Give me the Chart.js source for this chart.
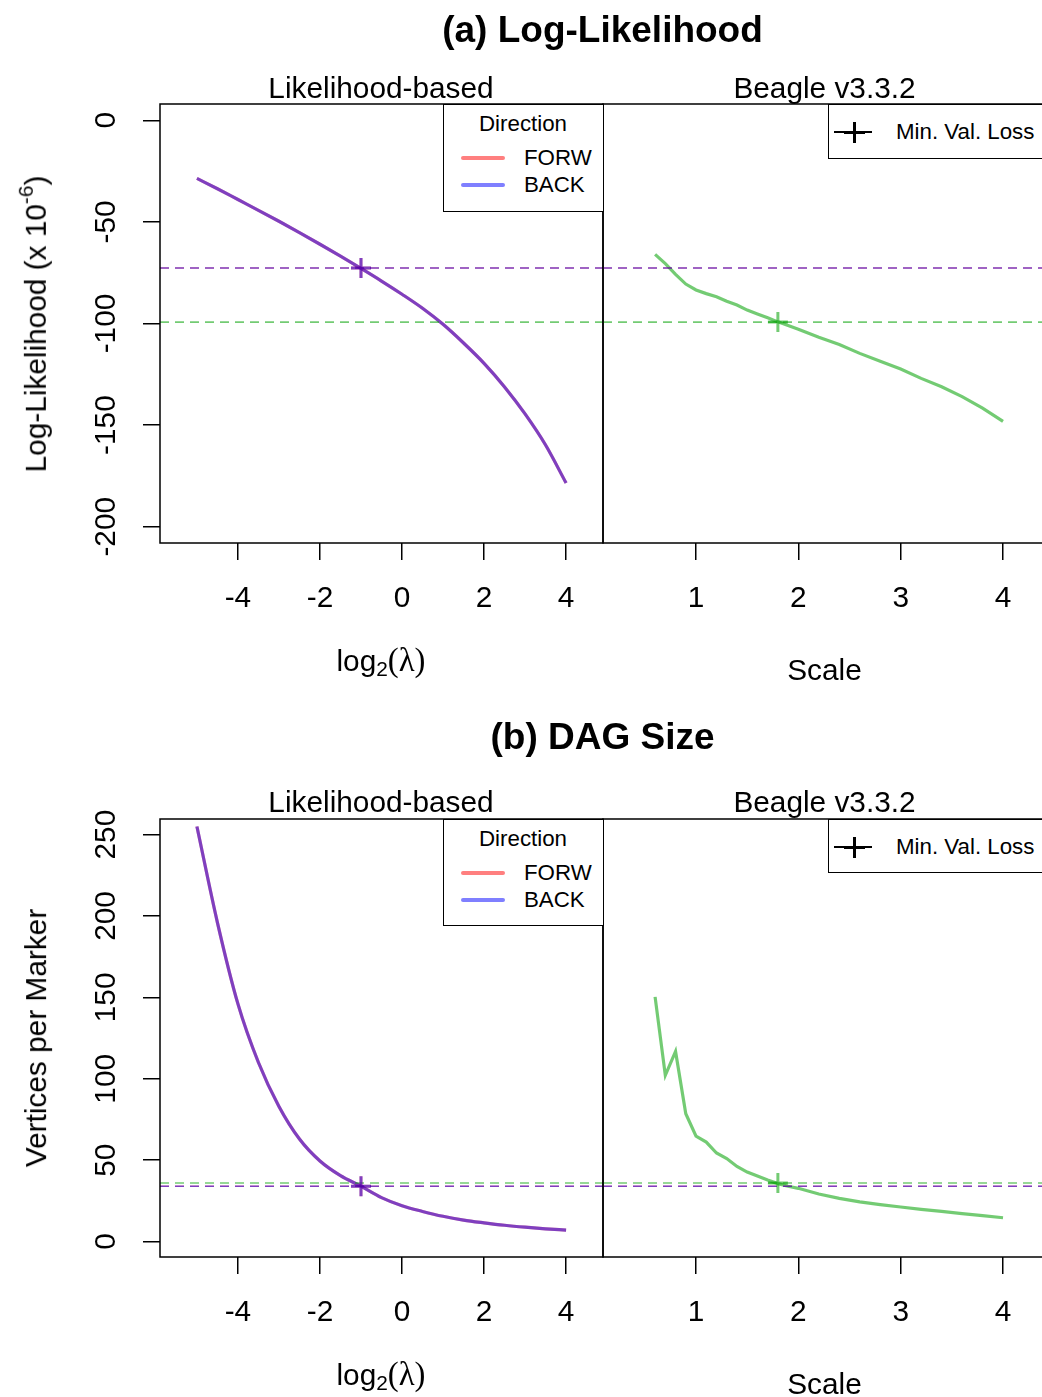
<!DOCTYPE html>
<html><head><meta charset="utf-8">
<script src="https://cdn.jsdelivr.net/npm/chart.js@4.4.1/dist/chart.umd.min.js"></script>
<style>
html,body{margin:0;padding:0;background:#fff;}
body{width:1042px;height:1397px;overflow:hidden;position:relative;font-family:"Liberation Sans",Arial,sans-serif;color:#000}
canvas{position:absolute}
.t{position:absolute;white-space:nowrap;line-height:1;transform:translate(-50%,-50%);font-size:29.8px}
.rot{transform:translate(-50%,-50%) rotate(-90deg)}
.leg{position:absolute;background:#fff;border:1.5px solid #000;box-sizing:border-box;z-index:5}
.lt{position:absolute;white-space:nowrap;line-height:1;font-size:22.3px;transform:translateY(-50%)}
.ll{position:absolute;height:4px;border-radius:2px;transform:translateY(-50%)}
sub{font-size:0.7em;vertical-align:-0.25em}
sup{font-size:0.7em;vertical-align:0.6em}
.serif{font-family:"Liberation Serif","Times New Roman",serif;font-size:1.1em}
</style></head><body>

<canvas id="cA1" width="620" height="700" style="left:0;top:0"></canvas>
<canvas id="cA2" width="500" height="700" style="left:560px;top:0"></canvas>
<canvas id="cB1" width="620" height="697" style="left:0;top:700px"></canvas>
<canvas id="cB2" width="500" height="697" style="left:560px;top:700px"></canvas>

<div class="t" style="left:602.5px;top:29px;font-weight:bold;font-size:37px">(a) Log-Likelihood</div>
<div class="t" style="left:381px;top:88px">Likelihood-based</div>
<div class="t" style="left:824.5px;top:88px">Beagle v3.3.2</div>
<div class="t" style="left:381px;top:662px">log<sub>2</sub><span class="serif">(λ)</span></div>
<div class="t" style="left:824.5px;top:670px">Scale</div>
<div class="t rot" style="left:33px;top:324px">Log-Likelihood (x 10<sup>-6</sup>)</div>

<div class="t" style="left:602.5px;top:736px;font-weight:bold;font-size:37px">(b) DAG Size</div>
<div class="t" style="left:381px;top:802px">Likelihood-based</div>
<div class="t" style="left:824.5px;top:802px">Beagle v3.3.2</div>
<div class="t" style="left:381px;top:1376px">log<sub>2</sub><span class="serif">(λ)</span></div>
<div class="t" style="left:824.5px;top:1384px">Scale</div>
<div class="t rot" style="left:36px;top:1038px">Vertices per Marker</div>

<div class="leg" style="left:443px;top:104px;width:161px;height:108px">
  <div class="lt" style="left:35px;top:19px">Direction</div>
  <div class="ll" style="left:17px;top:53px;width:44px;background:#FF7F7F"></div>
  <div class="lt" style="left:80px;top:53px">FORW</div>
  <div class="ll" style="left:17px;top:80px;width:44px;background:#7F7FFF"></div>
  <div class="lt" style="left:80px;top:80px">BACK</div>
</div>
<div class="leg" style="left:828px;top:104px;width:240px;height:55px">
  <div style="position:absolute;left:5px;top:26px;width:38px;height:1.5px;background:#000"></div>
  <div style="position:absolute;left:15px;top:25.5px;width:21px;height:3px;background:#000"></div>
  <div style="position:absolute;left:24px;top:16.5px;width:3px;height:21px;background:#000"></div>
  <div class="lt" style="left:67px;top:27px">Min. Val. Loss</div>
</div>

<div class="leg" style="left:443px;top:819px;width:161px;height:107px">
  <div class="lt" style="left:35px;top:19px">Direction</div>
  <div class="ll" style="left:17px;top:53px;width:44px;background:#FF7F7F"></div>
  <div class="lt" style="left:80px;top:53px">FORW</div>
  <div class="ll" style="left:17px;top:80px;width:44px;background:#7F7FFF"></div>
  <div class="lt" style="left:80px;top:80px">BACK</div>
</div>
<div class="leg" style="left:828px;top:819px;width:240px;height:54px">
  <div style="position:absolute;left:5px;top:26px;width:38px;height:1.5px;background:#000"></div>
  <div style="position:absolute;left:15px;top:25.5px;width:21px;height:3px;background:#000"></div>
  <div style="position:absolute;left:24px;top:16.5px;width:3px;height:21px;background:#000"></div>
  <div class="lt" style="left:67px;top:27px">Min. Val. Loss</div>
</div>

<script>
// ---------- data ----------
const likX = [-5,-4.5,-4,-3.5,-3,-2.5,-2,-1.5,-1,-0.5,0,0.5,1,1.5,2,2.5,3,3.5,4];
const likLogLik = [-28.6,-33.7,-39.0,-44.3,-49.7,-55.3,-61.0,-66.9,-72.9,-79.1,-85.6,-92.5,-100.4,-109.6,-119.6,-131.2,-144.5,-159.8,-178.5];
const likVertices = [255,196,146,110,83,63,49.5,40.5,34,27,22,18.5,15.5,13.2,11.5,10,8.8,7.8,7];

const beagleX = [0.6,0.7,0.8,0.9,1.0,1.1,1.2,1.3,1.4,1.5,1.6,1.7,1.8,1.9,2.0,2.2,2.4,2.6,2.8,3.0,3.2,3.4,3.6,3.8,4.0];
const beagleLogLik = [-66.0,-70.5,-75.8,-80.6,-83.5,-85.3,-86.8,-89.0,-90.9,-93.4,-95.3,-97.2,-99.2,-101.0,-102.8,-106.8,-110.3,-114.7,-118.6,-122.4,-127.0,-131.1,-136.0,-141.6,-148.2];
const beagleVertices = [150.3,102.1,116.8,78.5,64.7,61.1,54.4,51.0,46.1,42.7,40.2,37.8,35.6,34.0,32.7,29.2,26.5,24.4,22.7,21.2,19.8,18.5,17.1,15.9,14.6];

// minimum validation loss: [likelihood-based, beagle]
const minLossX = [-1, 1.8];
const minLossLogLik = [-72.7, -99.3];
const minLossVertices = [34.0, 36.0];

const xTicksLik = [-4,-2,0,2,4];
const xTicksBeagle = [1,2,3,4];
const yTicksLogLik = [0,-50,-100,-150,-200];
const yTicksVertices = [0,50,100,150,200,250];

// ---------- styling ----------
const RED = 'rgba(255,0,0,0.5)', BLUE = 'rgba(0,0,255,0.5)', GREEN = 'rgba(0,160,0,0.55)';
const FONT = '"Liberation Sans", Arial, sans-serif';

const framePlugin = {
  id: 'frame',
  afterDraw(chart, args, opts) {
    const {ctx, chartArea: a} = chart;
    ctx.save();
    ctx.strokeStyle = '#000'; ctx.lineWidth = 1.5;
    ctx.strokeRect(a.left, a.top, a.right - a.left, a.bottom - a.top);
    ctx.fillStyle = '#000';
    ctx.font = '29.8px ' + FONT;
    ctx.textAlign = 'center'; ctx.textBaseline = 'middle';
    const xs = chart.scales.x;
    xs.ticks.forEach(t => ctx.fillText(String(t.value), xs.getPixelForValue(t.value), a.bottom + 56));
    if (opts.yLabels) {
      const ys = chart.scales.y;
      ys.ticks.forEach(t => {
        ctx.save();
        ctx.translate(opts.yLabelX, ys.getPixelForValue(t.value));
        ctx.rotate(-Math.PI / 2);
        ctx.fillText(String(t.value), 0, 0);
        ctx.restore();
      });
    }
    ctx.restore();
  }
};

const pts = (xs, ys) => xs.map((x, i) => ({x, y: ys[i]}));

function makePanel(id, o) {
  const lineDs = (data, color, order, smooth) => ({data, borderColor: color, borderWidth: 3.2, pointRadius: 0, fill: false, order,
    cubicInterpolationMode: smooth ? 'monotone' : 'default', tension: 0});
  const hline = (v, color, order) => ({data: [{x: o.xMin, y: v}, {x: o.xMax, y: v}], borderColor: color, borderWidth: 1.6, borderDash: [9, 6], pointRadius: 0, fill: false, order});
  const mark = (x, y, color, order) => ({data: [{x, y}], showLine: false, pointStyle: 'cross', pointRadius: 10, pointBorderWidth: 3, pointBorderColor: color, borderColor: color, order});

  const datasets = [];
  if (o.kind === 'lik') {
    datasets.push(lineDs(pts(o.x, o.y), RED, 10, true));
    datasets.push(lineDs(pts(o.x, o.y), BLUE, 9, true));
  } else {
    datasets.push(lineDs(pts(o.x, o.y), GREEN, 10, false));
  }
  datasets.push(hline(o.hPurple, RED, 8));
  datasets.push(hline(o.hPurple, BLUE, 7));
  datasets.push(hline(o.hGreen, GREEN, 6));
  if (o.kind === 'lik') {
    datasets.push(mark(o.mx, o.my, RED, 2));
    datasets.push(mark(o.mx, o.my, BLUE, 1));
  } else {
    datasets.push(mark(o.mx, o.my, GREEN, 1));
  }

  return new Chart(document.getElementById(id), {
    type: 'line',
    data: {datasets},
    options: {
      responsive: false, animation: false, devicePixelRatio: 1,
      layout: {padding: o.padding},
      plugins: {legend: {display: false}, tooltip: {enabled: false}, frame: {yLabels: o.showY, yLabelX: 106.5}},
      scales: {
        x: {type: 'linear', min: o.xMin, max: o.xMax,
            afterBuildTicks: s => { s.ticks = o.xTicks.map(v => ({value: v})); },
            afterFit: s => { s.height = o.xAxisH; },
            ticks: {display: false},
            grid: {drawOnChartArea: false, drawTicks: true, tickLength: 17, color: '#000', lineWidth: 1.5},
            border: {display: false}},
        y: {type: 'linear', min: o.yMin, max: o.yMax, display: o.showY,
            afterBuildTicks: s => { s.ticks = o.yTicks.map(v => ({value: v})); },
            afterFit: s => { s.width = o.showY ? 160 : 0; },
            ticks: {display: false},
            grid: {drawOnChartArea: false, drawTicks: true, tickLength: 17, color: '#000', lineWidth: 1.5},
            border: {display: false}}
      }
    },
    plugins: [framePlugin]
  });
}

const LIK_X = [-5.9, 4.9], BEA_X = [0.091, 4.42];
const LL_Y = [-208, 8], V_Y = [-9.5, 259.6];

makePanel('cA1', {kind: 'lik', x: likX, y: likLogLik, mx: minLossX[0], my: minLossLogLik[0],
  hPurple: minLossLogLik[0], hGreen: minLossLogLik[1],
  xMin: LIK_X[0], xMax: LIK_X[1], xTicks: xTicksLik, yMin: LL_Y[0], yMax: LL_Y[1], yTicks: yTicksLogLik,
  showY: true, padding: {top: 104, right: 17, left: 0, bottom: 0}, xAxisH: 157});
makePanel('cA2', {kind: 'beagle', x: beagleX, y: beagleLogLik, mx: minLossX[1], my: minLossLogLik[1],
  hPurple: minLossLogLik[0], hGreen: minLossLogLik[1],
  xMin: BEA_X[0], xMax: BEA_X[1], xTicks: xTicksBeagle, yMin: LL_Y[0], yMax: LL_Y[1], yTicks: yTicksLogLik,
  showY: false, padding: {top: 104, right: 14, left: 43, bottom: 0}, xAxisH: 157});
makePanel('cB1', {kind: 'lik', x: likX, y: likVertices, mx: minLossX[0], my: minLossVertices[0],
  hPurple: minLossVertices[0], hGreen: minLossVertices[1],
  xMin: LIK_X[0], xMax: LIK_X[1], xTicks: xTicksLik, yMin: V_Y[0], yMax: V_Y[1], yTicks: yTicksVertices,
  showY: true, padding: {top: 119, right: 17, left: 0, bottom: 0}, xAxisH: 140});
makePanel('cB2', {kind: 'beagle', x: beagleX, y: beagleVertices, mx: minLossX[1], my: minLossVertices[1],
  hPurple: minLossVertices[0], hGreen: minLossVertices[1],
  xMin: BEA_X[0], xMax: BEA_X[1], xTicks: xTicksBeagle, yMin: V_Y[0], yMax: V_Y[1], yTicks: yTicksVertices,
  showY: false, padding: {top: 119, right: 14, left: 43, bottom: 0}, xAxisH: 140});
</script>
</body></html>
